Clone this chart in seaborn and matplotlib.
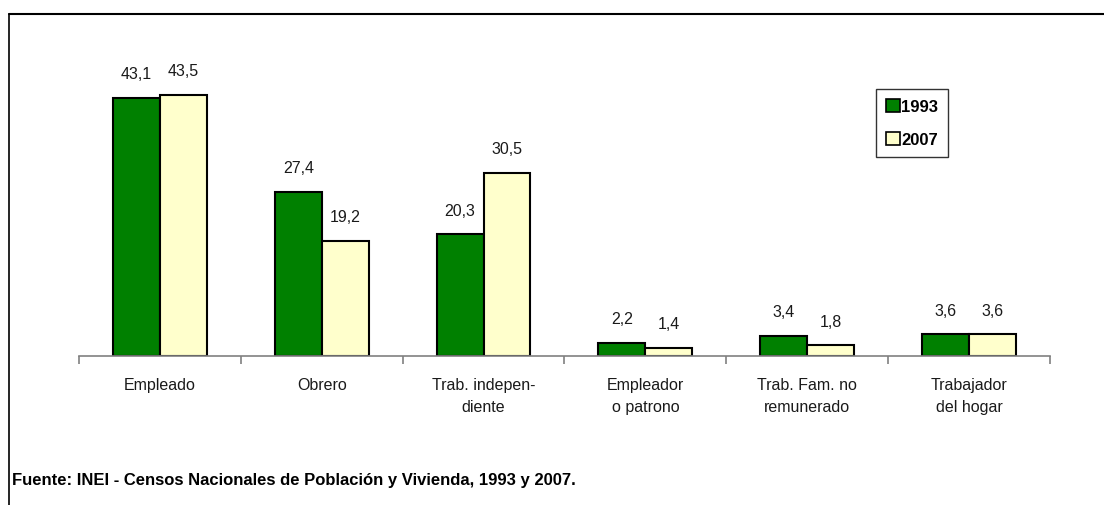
import pandas as pd
import matplotlib
matplotlib.use("Agg")
import matplotlib.pyplot as plt
import seaborn as sns
from matplotlib.lines import Line2D
from matplotlib.ticker import FixedLocator

# Data
categories = ["Empleado", "Obrero", "Trab. indepen-\ndiente", "Empleador\no patrono",
              "Trab. Fam. no\nremunerado", "Trabajador\ndel hogar"]
years = ["1993", "2007"]
values_1993 = [43.1, 27.4, 20.3, 2.2, 3.4, 3.6]
values_2007 = [43.5, 19.2, 30.5, 1.4, 1.8, 3.6]
colors = ["#008000", "#FFFFCC"]
source_note = "Fuente: INEI - Censos Nacionales de Población y Vivienda, 1993 y 2007."

df = pd.DataFrame({
    "cat": categories * 2,
    "year": [years[0]] * len(categories) + [years[1]] * len(categories),
    "value": values_1993 + values_2007,
})

sns.set_style("white")
plt.rcParams["font.family"] = ["Liberation Sans", "DejaVu Sans"]
plt.rcParams["text.color"] = "black"

fig = plt.figure(figsize=(11.04, 5.06), dpi=100)
ax = fig.add_axes([0.0716, 0.2945, 0.8794, 0.5925])

sns.barplot(data=df, x="cat", y="value", hue="year", order=categories,
            hue_order=years, palette=colors, width=0.58, edgecolor="black",
            linewidth=1.5, saturation=1, ax=ax)

# value labels with decimal comma
for cont in ax.containers:
    labels = [f"{b.get_height():.1f}".replace(".", ",") for b in cont]
    ax.bar_label(cont, labels=labels, padding=12, fontsize=11.5, color="#1a1a1a")

ax.set_ylim(0, 50)
ax.set_xlim(-0.5, len(categories) - 0.5)
ax.set_xlabel("")
ax.set_ylabel("")
ax.set_yticks([])
for s in ["top", "right", "left"]:
    ax.spines[s].set_visible(False)
ax.spines["bottom"].set_color("#808080")
ax.spines["bottom"].set_linewidth(1.2)

ax.tick_params(axis="x", which="major", length=0, pad=15, labelsize=11.5, labelcolor="#1a1a1a")
ax.xaxis.set_minor_locator(FixedLocator([i - 0.5 for i in range(len(categories) + 1)]))
ax.tick_params(axis="x", which="minor", length=6, width=1.2, color="#808080", bottom=True)
for lbl in ax.get_xticklabels():
    lbl.set_linespacing(1.6)

leg = ax.legend(loc="upper left", bbox_to_anchor=(876 / 1104, (506 - 90) / 506),
                bbox_transform=fig.transFigure, frameon=True, fancybox=False,
                edgecolor="black", handlelength=0.85, handleheight=0.85,
                handletextpad=0.05, borderpad=0.6, labelspacing=1.05,
                borderaxespad=0, prop={"weight": "bold", "size": 12})
leg.get_frame().set_linewidth(1.0)
for h in leg.legend_handles:
    h.set_edgecolor("black")
    h.set_linewidth(1.2)

# outer frame (left and top)
x0 = 9 / 1104
y0 = (506 - 15) / 506
fig.add_artist(Line2D([x0, x0], [0, y0], transform=fig.transFigure, color="black", lw=1.2))
fig.add_artist(Line2D([x0, 1], [y0, y0], transform=fig.transFigure, color="black", lw=1.5))

fig.text(12 / 1104, (506 - 481) / 506, source_note, fontsize=12, fontweight="bold",
         color="black", va="center", ha="left")

fig.savefig("out.png", dpi=100)
